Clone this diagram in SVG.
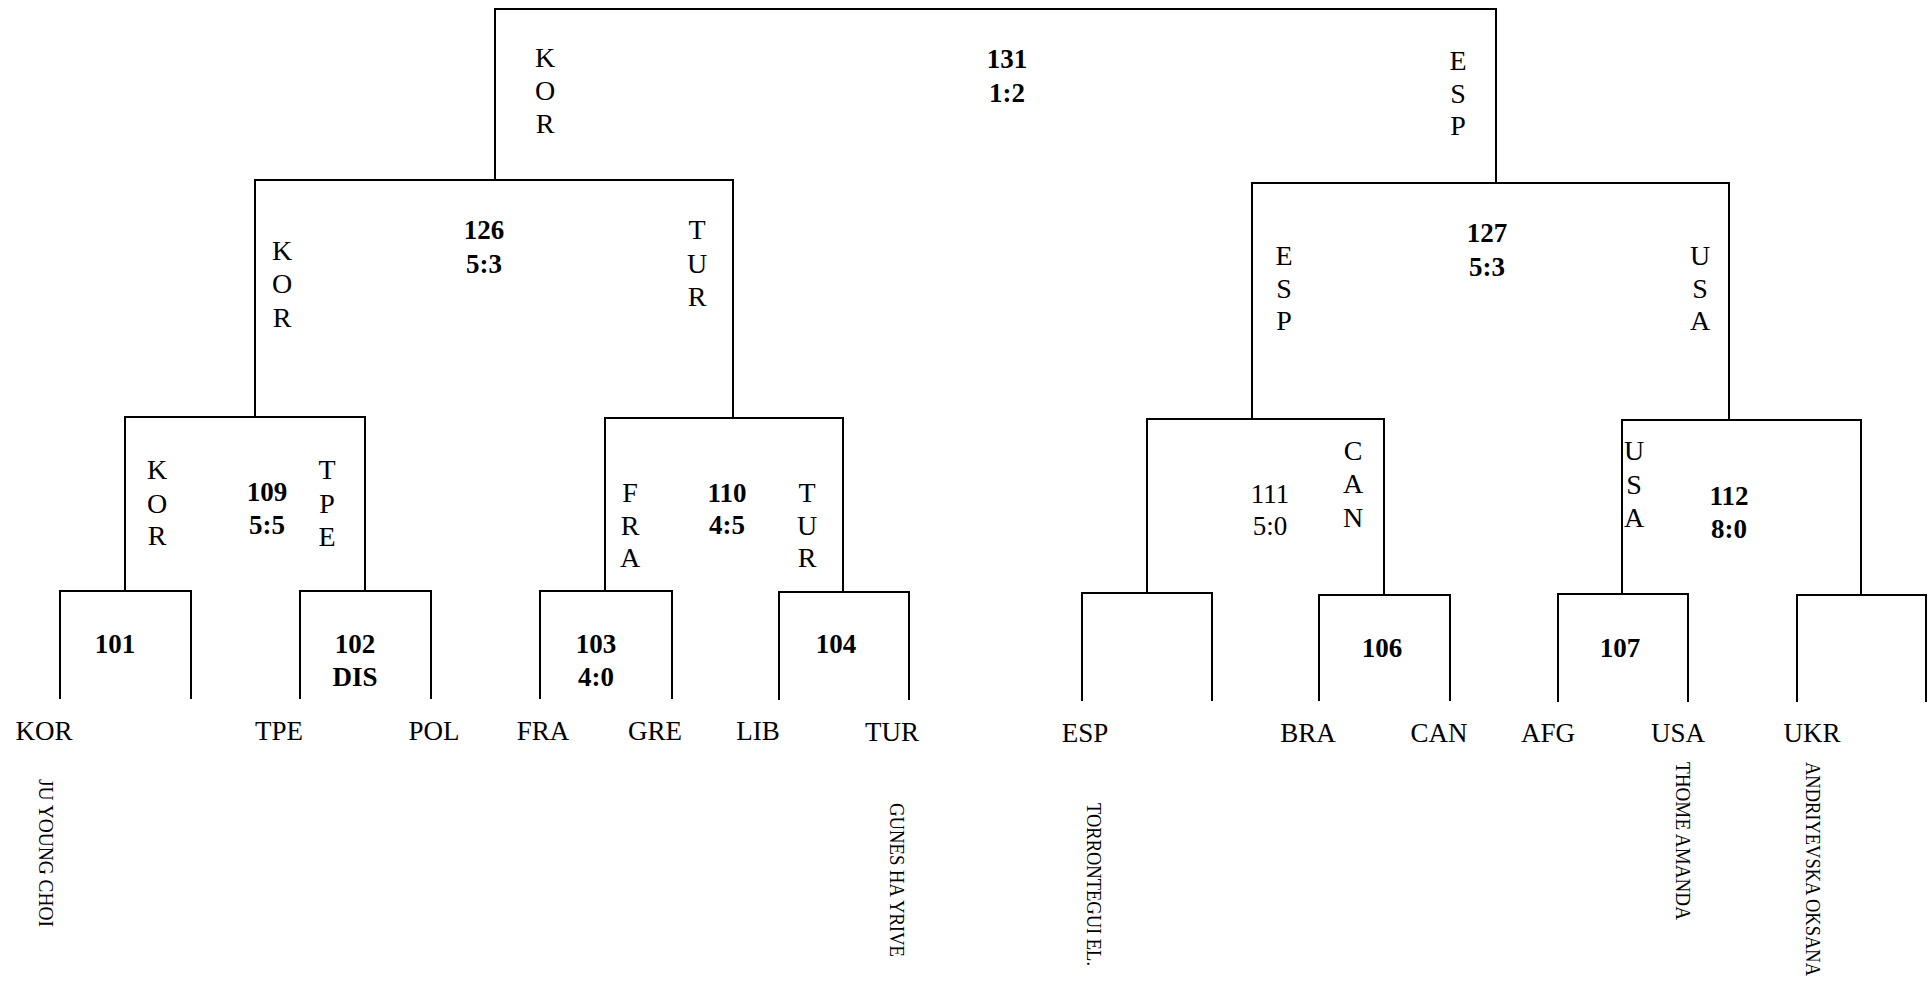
<svg xmlns="http://www.w3.org/2000/svg" width="1930" height="984" viewBox="0 0 1930 984">
<style>
  text { font-family: "Liberation Serif", "Times New Roman", serif; fill: #000; }
  .ln { fill: none; stroke: #000; stroke-width: 2; }
  .vl { font-size: 28px; text-anchor: middle; }
  .sc { font-size: 27px; font-weight: bold; text-anchor: middle; }
  .scn { font-size: 27px; text-anchor: middle; }
  .tm { font-size: 27px; text-anchor: middle; }
  .nm { font-size: 21px; }
</style>
<rect width="1930" height="984" fill="#fff"/>
<g id="connectors">
  <path class="ln" d="M60,699 V591 H191 V699"/>
  <path class="ln" d="M300,699 V591 H431 V699"/>
  <path class="ln" d="M540,699 V591 H672 V699"/>
  <path class="ln" d="M779,700 V592 H909 V700"/>
  <path class="ln" d="M1082,701 V593 H1212 V701"/>
  <path class="ln" d="M1319,701 V595 H1450 V701"/>
  <path class="ln" d="M1558,702 V594 H1688 V702"/>
  <path class="ln" d="M1797,702 V595 H1926 V702"/>
  <path class="ln" d="M125,591 V417 H365 V591"/>
  <path class="ln" d="M605,591 V418 H843 V592"/>
  <path class="ln" d="M1147,593 V419 H1384 V595"/>
  <path class="ln" d="M1622,594 V420 H1861 V595"/>
  <path class="ln" d="M255,417 V180 H733 V418"/>
  <path class="ln" d="M1252,419 V183 H1729 V420"/>
  <path class="ln" d="M495,180 V9 H1496 V183"/>
</g>
<g id="m131">
  <text class="sc" x="1007" y="68">131</text>
  <text class="sc" x="1007" y="102">1:2</text>
  <text class="vl" x="545" y="67">K</text><text class="vl" x="545" y="100">O</text><text class="vl" x="545" y="133">R</text>
  <text class="vl" x="1458" y="70">E</text><text class="vl" x="1458" y="103">S</text><text class="vl" x="1458" y="135">P</text>
</g>
<g id="m126">
  <text class="sc" x="484" y="239">126</text>
  <text class="sc" x="484" y="273">5:3</text>
  <text class="vl" x="282" y="260">K</text><text class="vl" x="282" y="293">O</text><text class="vl" x="282" y="327">R</text>
  <text class="vl" x="697" y="239">T</text><text class="vl" x="697" y="273">U</text><text class="vl" x="697" y="306">R</text>
</g>
<g id="m127">
  <text class="sc" x="1487" y="242">127</text>
  <text class="sc" x="1487" y="276">5:3</text>
  <text class="vl" x="1284" y="265">E</text><text class="vl" x="1284" y="298">S</text><text class="vl" x="1284" y="330">P</text>
  <text class="vl" x="1700" y="265">U</text><text class="vl" x="1700" y="298">S</text><text class="vl" x="1700" y="330">A</text>
</g>
<g id="m109">
  <text class="sc" x="267" y="501">109</text>
  <text class="sc" x="267" y="534">5:5</text>
  <text class="vl" x="157" y="479">K</text><text class="vl" x="157" y="513">O</text><text class="vl" x="157" y="545">R</text>
  <text class="vl" x="327" y="479">T</text><text class="vl" x="327" y="513">P</text><text class="vl" x="327" y="546">E</text>
</g>
<g id="m110">
  <text class="sc" x="727" y="502">110</text>
  <text class="sc" x="727" y="534">4:5</text>
  <text class="vl" x="630" y="502">F</text><text class="vl" x="630" y="535">R</text><text class="vl" x="630" y="567">A</text>
  <text class="vl" x="807" y="502">T</text><text class="vl" x="807" y="535">U</text><text class="vl" x="807" y="567">R</text>
</g>
<g id="m111">
  <text class="scn" x="1270" y="503">111</text>
  <text class="scn" x="1270" y="535">5:0</text>
  <text class="vl" x="1353" y="460">C</text><text class="vl" x="1353" y="493">A</text><text class="vl" x="1353" y="527">N</text>
</g>
<g id="m112">
  <text class="sc" x="1729" y="505">112</text>
  <text class="sc" x="1729" y="538">8:0</text>
  <text class="vl" x="1634" y="460">U</text><text class="vl" x="1634" y="494">S</text><text class="vl" x="1634" y="527">A</text>
</g>
<g id="m101"><text class="sc" x="115" y="653">101</text></g>
<g id="m102"><text class="sc" x="355" y="653">102</text><text class="sc" x="355" y="686">DIS</text></g>
<g id="m103"><text class="sc" x="596" y="653">103</text><text class="sc" x="596" y="686">4:0</text></g>
<g id="m104"><text class="sc" x="836" y="653">104</text></g>
<g id="m105"></g>
<g id="m106"><text class="sc" x="1382" y="657">106</text></g>
<g id="m107"><text class="sc" x="1620" y="657">107</text></g>
<g id="m108"></g>
<g id="teams">
  <text class="tm" x="44" y="740">KOR</text>
  <text class="tm" x="279" y="740">TPE</text>
  <text class="tm" x="434" y="740">POL</text>
  <text class="tm" x="543" y="740">FRA</text>
  <text class="tm" x="655" y="740">GRE</text>
  <text class="tm" x="758" y="740">LIB</text>
  <text class="tm" x="892" y="741">TUR</text>
  <text class="tm" x="1085" y="742">ESP</text>
  <text class="tm" x="1308" y="742">BRA</text>
  <text class="tm" x="1439" y="742">CAN</text>
  <text class="tm" x="1548" y="742">AFG</text>
  <text class="tm" x="1678" y="742">USA</text>
  <text class="tm" x="1812" y="742">UKR</text>
</g>
<g id="names">
  <text class="nm" transform="translate(39,779) rotate(90)" textLength="148" lengthAdjust="spacingAndGlyphs">JU YOUNG CHOI</text>
  <text class="nm" transform="translate(890,803) rotate(90)" textLength="154" lengthAdjust="spacingAndGlyphs">GUNES HA YRIVE</text>
  <text class="nm" transform="translate(1087,803) rotate(90)" textLength="163" lengthAdjust="spacingAndGlyphs">TORRONTEGUI EL.</text>
  <text class="nm" transform="translate(1676,762) rotate(90)" textLength="158" lengthAdjust="spacingAndGlyphs">THOME AMANDA</text>
  <text class="nm" transform="translate(1806,762) rotate(90)" textLength="214" lengthAdjust="spacingAndGlyphs">ANDRIYEVSKA OKSANA</text>
</g>
</svg>
